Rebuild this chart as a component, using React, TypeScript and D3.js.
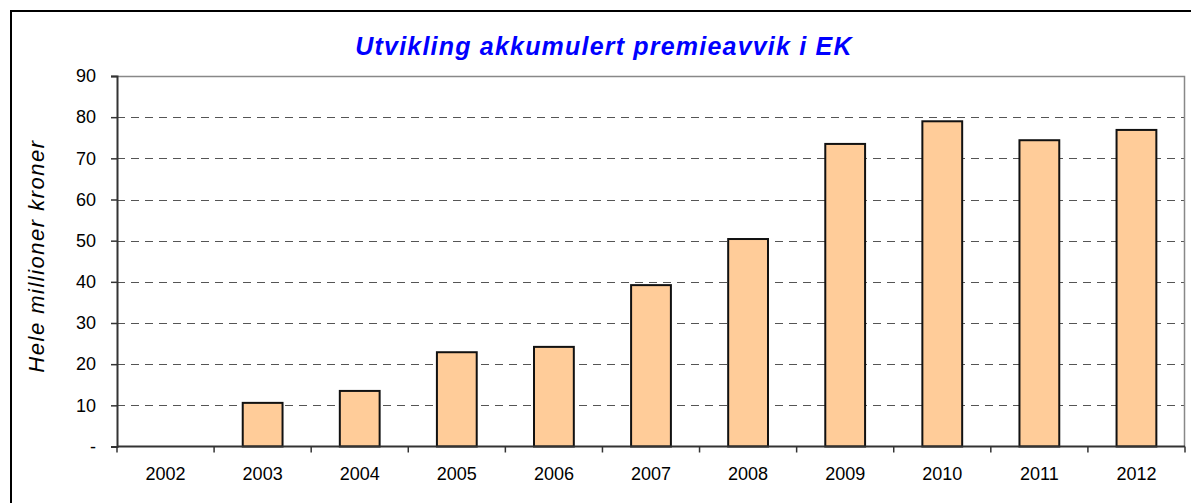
import React, { useEffect, useRef } from 'react';
import * as d3 from 'd3';

const years = ['2002', '2003', '2004', '2005', '2006', '2007', '2008', '2009', '2010', '2011', '2012'];
const values = [0, 10.6, 13.5, 22.9, 24.2, 39.2, 50.4, 73.5, 79.0, 74.4, 76.9];
const yTicks = [0, 10, 20, 30, 40, 50, 60, 70, 80, 90];

const chartTitle = 'Utvikling akkumulert premieavvik i EK';
const yTitle = 'Hele millioner kroner';

const W = 1191;
const H = 503;
const margin = { top: 76, right: 6, bottom: 56.5, left: 117 };
const font = '"Liberation Sans", Arial, sans-serif';

const App = () => {
    const ref = useRef<SVGSVGElement>(null);

    useEffect(() => {
        const svg = d3.select(ref.current);
        svg.selectAll('*').remove();

        const iw = W - margin.left - margin.right;
        const ih = H - margin.top - margin.bottom;

        // outer chart frame
        svg.append('rect')
            .attr('x', 11).attr('y', 11)
            .attr('width', W + 10).attr('height', H + 10)
            .attr('fill', 'white').attr('stroke', 'black').attr('stroke-width', 2);

        svg.append('text')
            .attr('x', 604).attr('y', 54.5)
            .attr('text-anchor', 'middle')
            .attr('font-family', font).attr('font-size', 25)
            .attr('letter-spacing', 1.2)
            .attr('font-weight', 'bold').attr('font-style', 'italic')
            .attr('fill', '#0000ff')
            .text(chartTitle);

        const g = svg.append('g').attr('transform', `translate(${margin.left},${margin.top})`);

        const x = d3.scaleBand().domain(years).range([0, iw]).paddingInner(0.59).paddingOuter(0.295);
        const xb = d3.scaleBand().domain(years).range([0, iw]);
        const y = d3.scaleLinear().domain([0, 90]).range([ih, 0]);

        // gridlines
        g.selectAll('line.grid')
            .data(yTicks.filter(t => t > 0 && t < 90))
            .enter().append('line')
            .attr('class', 'grid')
            .attr('x1', 0).attr('x2', iw)
            .attr('y1', d => Math.round(y(d)) + 0.5).attr('y2', d => Math.round(y(d)) + 0.5)
            .attr('stroke', '#555').attr('stroke-width', 1)
            .attr('stroke-dasharray', '8,6');

        // plot frame top + right
        g.append('path')
            .attr('d', `M0,0.5H${iw - 0.5}V${ih}`)
            .attr('fill', 'none').attr('stroke', '#888').attr('stroke-width', 1.5);

        // bars
        g.selectAll('rect.bar')
            .data(years.map((yr, i) => ({ yr, v: values[i] })).filter(d => d.v > 0))
            .enter().append('rect')
            .attr('class', 'bar')
            .attr('x', d => x(d.yr)!)
            .attr('y', d => y(d.v))
            .attr('width', x.bandwidth())
            .attr('height', d => ih - y(d.v))
            .attr('fill', '#ffcc99')
            .attr('stroke', '#111').attr('stroke-width', 2);

        // y axis
        const yAxis = d3.axisLeft(y)
            .tickValues(yTicks)
            .tickSize(6)
            .tickPadding(15)
            .tickFormat(d => (d === 0 ? '-' : String(d)));
        const gy = g.append('g').call(yAxis);
        gy.select('.domain').attr('stroke', '#333').attr('stroke-width', 2);
        gy.selectAll('.tick line').attr('stroke', '#333').attr('stroke-width', 1.5);
        gy.selectAll('.tick text')
            .attr('font-family', font).attr('font-size', 18).attr('fill', '#000');

        // x axis
        const gx = g.append('g').attr('transform', `translate(0,${ih})`);
        gx.append('line')
            .attr('x1', 0).attr('x2', iw).attr('y1', 0).attr('y2', 0)
            .attr('stroke', '#333').attr('stroke-width', 2);
        gx.selectAll('line.xt')
            .data([...years.map(d => xb(d)!), iw])
            .enter().append('line')
            .attr('class', 'xt')
            .attr('x1', d => d).attr('x2', d => d)
            .attr('y1', 0).attr('y2', 6)
            .attr('stroke', '#333').attr('stroke-width', 1.5);
        gx.selectAll('text')
            .data(years)
            .enter().append('text')
            .attr('x', d => xb(d)! + xb.bandwidth() / 2)
            .attr('y', 33.5)
            .attr('text-anchor', 'middle')
            .attr('font-family', font).attr('font-size', 18)
            .text(d => d);

        // y title
        svg.append('text')
            .attr('transform', `translate(43.5,256) rotate(-90)`)
            .attr('text-anchor', 'middle')
            .attr('font-family', font).attr('font-size', 22)
            .attr('letter-spacing', 1.5)
            .attr('font-style', 'italic')
            .text(yTitle);
    }, []);

    return (
        <svg ref={ref} width={W} height={H} style={{ position: 'absolute', left: 0, top: 0 }} />
    );
};

export default App;
